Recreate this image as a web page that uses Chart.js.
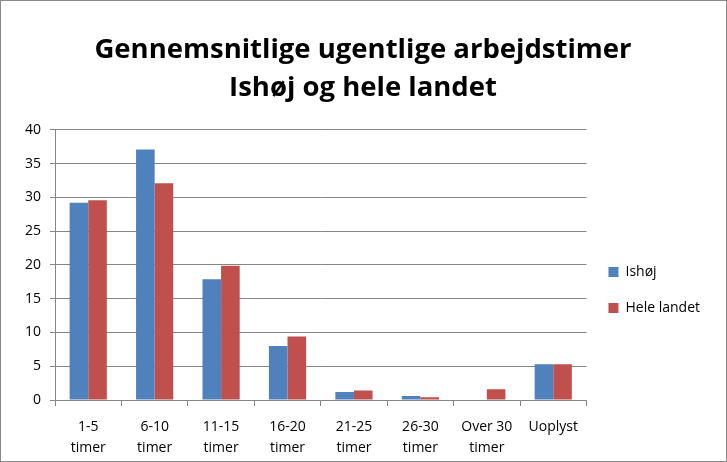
<!DOCTYPE html>
<html>
<head>
<meta charset="utf-8">
<script src="https://cdn.jsdelivr.net/npm/chart.js@4"></script>
<style>
  body { margin: 0; background: #fff; }
  #wrap { width: 727px; height: 462px; }
</style>
</head>
<body>
<div id="wrap"><canvas id="chart" width="727" height="462"></canvas></div>
<script>
// data
const categories = [["1-5", "timer"], ["6-10", "timer"], ["11-15", "timer"], ["16-20", "timer"],
  ["21-25", "timer"], ["26-30", "timer"], ["Over 30", "timer"], ["Uoplyst"]];
const ishoj = [29.2, 37.1, 17.9, 8.0, 1.2, 0.6, 0, 5.3];
const heleLandet = [29.6, 32.1, 19.9, 9.4, 1.4, 0.4, 1.6, 5.3];
const titleLines = ["Gennemsnitlige ugentlige arbejdstimer", "Ishøj og hele landet"];

const font = "'Open Sans', 'Noto Sans', sans-serif";

// grey frame round the whole chart
const frame = {
  id: "frame",
  afterDraw(chart) {
    const c = chart.ctx;
    c.save();
    c.strokeStyle = "#898989";
    c.lineWidth = 1;
    c.strokeRect(0.5, 0.5, chart.width - 1, chart.height - 1);
    c.restore();
  }
};

// legend sits a bit lower than chart.js would put it
const legendShift = {
  id: "legendShift",
  afterLayout(chart) {
    chart.legend.top += 55;
    chart.legend.bottom += 55;
  }
};

new Chart(document.getElementById("chart"), {
  type: "bar",
  data: {
    labels: categories,
    datasets: [
      { label: "Ishøj", data: ishoj, backgroundColor: "#4f81bd", borderColor: "#4f81bd", borderWidth: 0 },
      { label: "Hele landet", data: heleLandet, backgroundColor: "#c0504d", borderColor: "#c0504d", borderWidth: 0 }
    ]
  },
  options: {
    responsive: false,
    animation: false,
    layout: { padding: { left: 16, right: 17, top: 0, bottom: -8 } },
    datasets: { bar: { categoryPercentage: 0.56, barPercentage: 1 } },
    plugins: {
      title: {
        display: true,
        text: titleLines,
        color: "#000",
        font: { family: font, size: 27.5, weight: "bold", lineHeight: 1.38 },
        padding: { top: 31, bottom: 23 }
      },
      legend: {
        position: "right",
        labels: {
          boxWidth: 10,
          boxHeight: 10,
          padding: 22,
          color: "#000",
          font: { family: font, size: 14 }
        }
      },
      tooltip: { enabled: false }
    },
    scales: {
      x: {
        grid: { display: true, drawOnChartArea: false, offset: true, color: "#868686", tickLength: 6 },
        border: { color: "#868686" },
        ticks: { color: "#000", font: { family: font, size: 14, lineHeight: 1.5 }, maxRotation: 0, autoSkip: false, padding: 11 }
      },
      y: {
        min: 0,
        max: 40,
        ticks: { stepSize: 5, color: "#000", font: { family: font, size: 14 }, padding: 9 },
        grid: { color: "#868686", tickLength: 5 },
        border: { color: "#868686" }
      }
    }
  },
  plugins: [frame, legendShift]
});
</script>
</body>
</html>
